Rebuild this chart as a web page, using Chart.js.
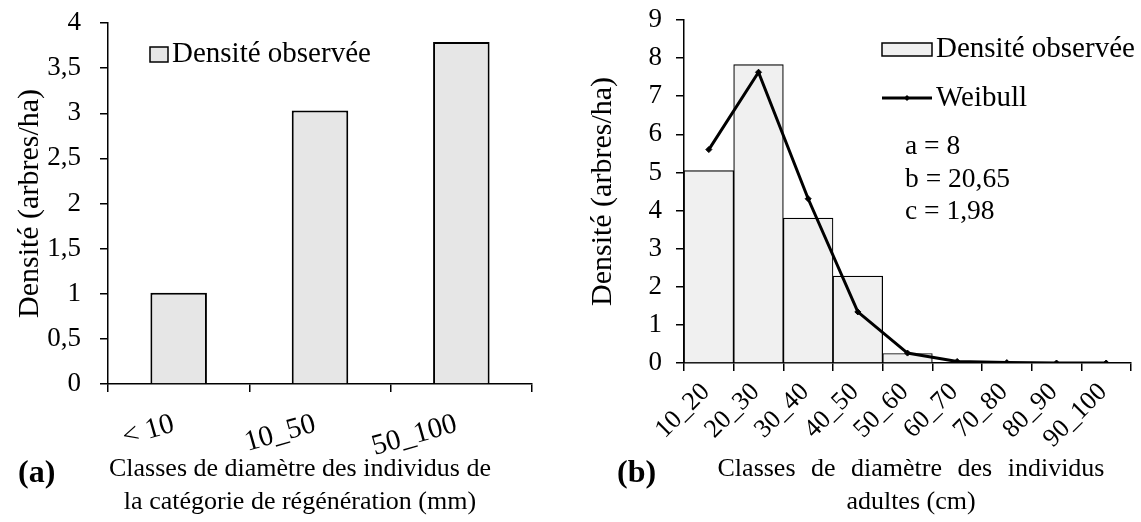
<!DOCTYPE html>
<html><head><meta charset="utf-8">
<script src="https://cdn.jsdelivr.net/npm/chart.js@4/dist/chart.umd.min.js"></script>
<style>
html,body{margin:0;padding:0;background:#fff;width:1141px;height:522px;overflow:hidden}
#a{position:absolute;left:0;top:0;width:565px;height:522px}
#b{position:absolute;left:565px;top:0;width:576px;height:522px}
</style></head><body>
<div id="a"><canvas id="ca"></canvas></div>
<div id="b"><canvas id="cb"></canvas></div>
<script>
// ---- data ----
const regenClasses = ['< 10', '10_50', '50_100'];
const regenDensity = [1.01, 3.03, 3.79];
const adultClasses = ['10_20', '20_30', '30_40', '40_50', '50_60', '60_70', '70_80', '80_90', '90_100'];
const adultDensity = [5.05, 7.83, 3.80, 2.28, 0.25, 0, 0, 0, 0];
const weibullDensity = [5.60, 7.63, 4.31, 1.34, 0.26, 0.04, 0.01, 0.0, 0.0];
const weibullParams = ['a = 8', 'b = 20,65', 'c = 1,98'];
const legendObs = 'Densité observée';
const legendWeibull = 'Weibull';
const yTitle = 'Densité (arbres/ha)';
const xTitleA = ['Classes de diamètre des individus de', 'la catégorie de régénération (mm)'];
const xTitleB = ['Classes de diamètre des individus', 'adultes (cm)'];
const panelA = '(a)', panelB = '(b)';

const FONT = "'Liberation Serif','Times New Roman',serif";
const fmt = v => String(v).replace('.', ',');

function drawText(ctx, text, x, y, size, opts = {}) {
  ctx.save();
  ctx.font = (opts.bold ? 'bold ' : '') + size + 'px ' + FONT;
  ctx.fillStyle = '#000';
  ctx.textAlign = opts.align || 'left';
  ctx.textBaseline = 'middle';
  if (opts.wordSpacing) ctx.wordSpacing = opts.wordSpacing;
  ctx.fillText(text, x, y);
  ctx.restore();
}

function axisOpts(extra) {
  return Object.assign({
    grid: { drawOnChartArea: false, drawTicks: true, tickLength: 8, color: '#000', lineWidth: 1.5 },
    border: { display: true, color: '#000', width: 1.5 }
  }, extra);
}
function fixY(w) {
  return s => { s.width = w; s.paddingTop = 0; s.paddingBottom = 0; };
}
function fixX(h) {
  return s => { s.height = h; s.paddingLeft = 0; s.paddingRight = 0; };
}

const annotA = {
  id: 'annotA',
  afterDraw(chart) {
    const ctx = chart.ctx;
    ctx.save();
    ctx.fillStyle = '#e6e6e6'; ctx.fillRect(150, 47, 18, 15);
    ctx.strokeStyle = '#000'; ctx.lineWidth = 1.5; ctx.strokeRect(150, 47, 18, 15);
    ctx.restore();
    drawText(ctx, legendObs, 172, 54, 29);
    xTitleA.forEach((t, i) => drawText(ctx, t, 300, 469 + i * 33, 26, { align: 'center' }));
    drawText(ctx, panelA, 18, 474, 32, { bold: true });
  }
};

const annotB = {
  id: 'annotB',
  afterDraw(chart) {
    const ctx = chart.ctx;
    ctx.save();
    ctx.fillStyle = '#f0f0f0'; ctx.fillRect(317, 43, 50, 13);
    ctx.strokeStyle = '#000'; ctx.lineWidth = 1.5; ctx.strokeRect(317, 43, 50, 13);
    ctx.beginPath(); ctx.moveTo(317, 98); ctx.lineTo(367, 98); ctx.lineWidth = 3; ctx.stroke();
    ctx.beginPath(); ctx.moveTo(342, 95); ctx.lineTo(345, 98); ctx.lineTo(342, 101); ctx.lineTo(339, 98); ctx.closePath();
    ctx.fillStyle = '#000'; ctx.fill();
    ctx.restore();
    drawText(ctx, legendObs, 371, 49, 29);
    drawText(ctx, legendWeibull, 371, 98, 29);
    weibullParams.forEach((t, i) => drawText(ctx, t, 340, 147 + i * 32.5, 27.5));
    drawText(ctx, xTitleB[0], 346, 469, 26, { align: 'center', wordSpacing: '9px' });
    drawText(ctx, xTitleB[1], 346, 502, 26, { align: 'center' });
    drawText(ctx, panelB, 52, 474, 32, { bold: true });
  }
};

new Chart(document.getElementById('ca'), {
  type: 'bar',
  data: {
    labels: regenClasses,
    datasets: [{
      label: legendObs, data: regenDensity,
      backgroundColor: '#e6e6e6', borderColor: '#000', borderWidth: 2,
      barPercentage: 0.4, categoryPercentage: 1
    }]
  },
  options: {
    responsive: true, maintainAspectRatio: false, animation: false,
    layout: { padding: { top: 23, right: 33, left: 0, bottom: 0 } },
    plugins: { legend: { display: false }, tooltip: { enabled: false } },
    scales: {
      x: axisOpts({
        afterFit: fixX(138),
        grid: { offset: true, drawOnChartArea: false, drawTicks: true, tickLength: 8, color: '#000', lineWidth: 1.5 },
        ticks: { color: '#000', font: { family: FONT, size: 29 }, minRotation: 16, maxRotation: 16, padding: 15, labelOffset: -5, autoSkip: false }
      }),
      y: axisOpts({
        min: 0, max: 4,
        afterFit: fixY(108),
        ticks: { stepSize: 0.5, callback: v => fmt(v), padding: 19, color: '#000', font: { family: FONT, size: 27 } },
        title: { display: true, text: yTitle, color: '#000', font: { family: FONT, size: 30, lineHeight: 1 }, padding: { top: 15, bottom: 0 } }
      })
    }
  },
  plugins: [annotA]
});

new Chart(document.getElementById('cb'), {
  type: 'bar',
  data: {
    labels: adultClasses,
    datasets: [
      {
        type: 'line', label: legendWeibull, data: weibullDensity, order: 0,
        borderColor: '#000', borderWidth: 3, tension: 0,
        pointStyle: 'rectRot', pointRadius: 3, pointBackgroundColor: '#000', pointBorderColor: '#000', pointBorderWidth: 1
      },
      {
        type: 'bar', label: legendObs, data: adultDensity, order: 1,
        backgroundColor: '#f0f0f0', borderColor: '#000', borderWidth: 1.2,
        barPercentage: 1, categoryPercentage: 1
      }
    ]
  },
  options: {
    responsive: true, maintainAspectRatio: false, animation: false,
    layout: { padding: { top: 20, right: 10, left: 0, bottom: 0 } },
    plugins: { legend: { display: false }, tooltip: { enabled: false } },
    scales: {
      x: axisOpts({
        afterFit: fixX(159),
        grid: { offset: true, drawOnChartArea: false, drawTicks: true, tickLength: 8, color: '#000', lineWidth: 1.5 },
        ticks: { color: '#000', font: { family: FONT, size: 26 }, minRotation: 45, maxRotation: 45, padding: 6, labelOffset: -3, autoSkip: false }
      }),
      y: axisOpts({
        min: 0, max: 9,
        afterFit: fixY(119),
        ticks: { stepSize: 1, callback: v => fmt(v), padding: 14, color: '#000', font: { family: FONT, size: 27 } },
        title: { display: true, text: yTitle, color: '#000', font: { family: FONT, size: 30, lineHeight: 1 }, padding: { top: 23, bottom: 0 } }
      })
    }
  },
  plugins: [annotB]
});
</script>
</body></html>
